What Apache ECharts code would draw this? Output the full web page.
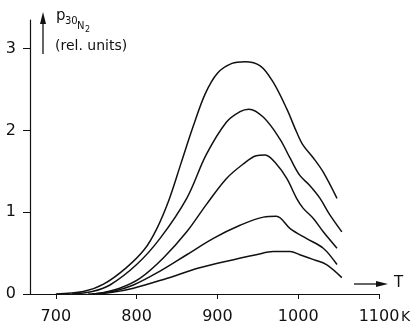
<!DOCTYPE html>
<html>
<head>
<meta charset="utf-8">
<script src="https://cdn.jsdelivr.net/npm/echarts@6/dist/echarts.min.js"></script>
<style>
  html, body { margin: 0; padding: 0; background: #fff; }
  #main { width: 411px; height: 325px; }
</style>
</head>
<body>
<div id="main"></div>
<script>
// temperature ticks (K) and intensity ticks
const xTicks = [700, 800, 900, 1000, 1100];
const yTicks = [0, 1, 2, 3];

// [T, p] pairs, top to bottom
const curve1 = [[700, 0], [734, 0.03], [759, 0.12], [787, 0.32], [810, 0.55], [825, 0.8], [840, 1.15], [855, 1.6], [870, 2.05], [885, 2.45], [900, 2.7], [918, 2.82], [934, 2.84], [953, 2.79], [969, 2.59], [986, 2.26], [998, 1.98], [1006, 1.82], [1019, 1.66], [1031, 1.49], [1048, 1.17]];
const curve2 = [[720, 0], [745, 0.03], [767, 0.11], [800, 0.36], [829, 0.68], [862, 1.17], [886, 1.7], [911, 2.1], [928, 2.23], [939, 2.26], [957, 2.16], [977, 1.9], [990, 1.66], [1002, 1.45], [1014, 1.33], [1027, 1.17], [1039, 0.97], [1054, 0.76]];
const curve3 = [[740, 0], [755, 0.01], [779, 0.07], [804, 0.19], [833, 0.44], [862, 0.76], [886, 1.09], [911, 1.41], [932, 1.59], [948, 1.69], [959, 1.7], [973, 1.59], [986, 1.41], [998, 1.17], [1006, 1.05], [1019, 0.92], [1031, 0.76], [1048, 0.56]];
const curve4 = [[745, 0], [770, 0.03], [796, 0.11], [829, 0.28], [862, 0.48], [895, 0.68], [928, 0.84], [957, 0.94], [973, 0.95], [990, 0.8], [1010, 0.68], [1031, 0.56], [1048, 0.36]];
const curve5 = [[745, 0], [770, 0.02], [796, 0.07], [837, 0.19], [878, 0.32], [920, 0.42], [948, 0.48], [969, 0.52], [990, 0.52], [1002, 0.48], [1019, 0.42], [1035, 0.36], [1054, 0.2]];

const chart = echarts.init(document.getElementById("main"));
const ink = "#111";
const font = "DejaVu Sans";

const lineSeries = (data) => ({
  type: "line",
  data: data,
  smooth: 0.35,
  symbol: "none",
  lineStyle: { color: ink, width: 1.5 },
  silent: true,
});

chart.setOption({
  animation: false,
  grid: { left: 30, right: 32, top: 20, bottom: 29 },
  xAxis: {
    type: "value",
    min: 668,
    max: 1100,
    axisLine: { show: true, lineStyle: { color: ink, width: 1.2 } },
    axisTick: { show: true, length: 5, customValues: xTicks, lineStyle: { color: ink } },
    axisLabel: {
      customValues: xTicks,
      margin: 15,
      formatter: (v) => String(v),
      fontFamily: font,
      fontSize: 16,
      color: ink,
    },
    splitLine: { show: false },
  },
  yAxis: {
    type: "value",
    min: 0,
    max: 3.35,
    axisLine: { show: true, lineStyle: { color: ink, width: 1.2 } },
    axisTick: { show: true, length: 7, customValues: yTicks, lineStyle: { color: ink } },
    axisLabel: { customValues: yTicks, margin: 14, fontFamily: font, fontSize: 16, color: ink },
    splitLine: { show: false },
  },
  graphic: [
    // y quantity arrow and label
    { type: "line", shape: { x1: 43, y1: 54, x2: 43, y2: 22 }, style: { stroke: ink, lineWidth: 1.3 } },
    { type: "polygon", shape: { points: [[43, 12], [40, 24], [46, 24]] }, style: { fill: ink } },
    { type: "text", left: 56, top: 9, style: { text: "p", font: "15px " + font, fill: ink } },
    { type: "text", left: 65, top: 16, style: { text: "30", font: "10px " + font, fill: ink } },
    { type: "text", left: 77, top: 21, style: { text: "N", font: "10px " + font, fill: ink } },
    { type: "text", left: 85, top: 26, style: { text: "2", font: "8px " + font, fill: ink } },
    { type: "text", left: 55, top: 39, style: { text: "(rel. units)", font: "14px " + font, fill: ink } },
    // x quantity arrow and label
    { type: "line", shape: { x1: 354, y1: 284, x2: 378, y2: 284 }, style: { stroke: ink, lineWidth: 1.3 } },
    { type: "polygon", shape: { points: [[388, 284], [376, 281], [376, 287]] }, style: { fill: ink } },
    { type: "text", left: 394, top: 276, style: { text: "T", font: "15px " + font, fill: ink } },
    { type: "text", left: 401, top: 310, style: { text: "K", font: "14px " + font, fill: ink } },
  ],
  series: [curve1, curve2, curve3, curve4, curve5].map(lineSeries),
});

window.addEventListener("resize", () => chart.resize());
</script>
</body>
</html>
